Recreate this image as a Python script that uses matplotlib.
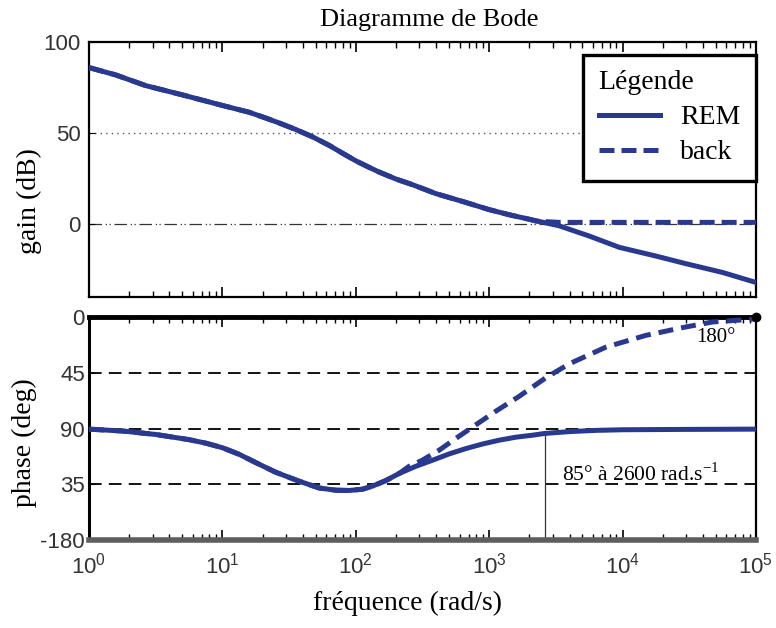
import matplotlib
matplotlib.use("Agg")
import matplotlib.pyplot as plt

# data (w in rad/s)
w_gain_rem = [1, 1.58, 2.66, 5.01, 10, 15.8, 21.1, 26.6, 35.5, 47.3, 63.1,
              79.4, 100, 126, 150, 200, 266, 398, 631, 1000, 1410, 2000,
              3350, 5620, 9440, 17800, 29900, 56200, 100000]
gain_rem = [86, 82, 76.1, 71, 65.2, 61.5, 58.3, 55.6, 52, 48, 43.3,
            39, 34.8, 31.2, 28.6, 24.8, 21.7, 16.8, 12.5, 8, 5.2, 2.7,
            -0.9, -6.5, -12.7, -17.5, -21.7, -26.5, -32]

w_gain_back = [1, 1.58, 2.66, 5.01, 10, 15.8, 21.1, 26.6, 35.5, 47.3, 63.1,
               79.4, 100, 126, 150, 200, 266, 398, 631, 1000, 1410, 2000,
               2240, 3350, 10000, 100000]
gain_back = [86, 82, 76.1, 71, 65.2, 61.5, 58.3, 55.6, 52, 48, 43.3,
             39, 34.8, 31.2, 28.6, 24.8, 21.7, 16.8, 12.5, 8, 5.2, 2.7,
             1.7, 1, 1, 1]

w_phase_rem = [1, 1.778, 3.162, 5.623, 7.499, 10, 13.34, 17.78, 25.12, 37.58,
               53.09, 70.79, 89.13, 112.2, 133.4, 167.9, 211.3, 281.8,
               375.8, 501.2, 668.3, 891.3, 1189, 1585, 2113, 2600, 3981,
               6310, 10000, 31620, 100000]
phase_rem = [-90.5, -92, -94.8, -99, -101.8, -105.5, -110.8, -117.5, -125.3,
             -132.5, -138, -139.8, -140, -139, -136.5, -132, -126.3, -120.5,
             -115.6, -110.5, -106.2, -102.5, -99.4, -97, -95.4, -94,
             -92.5, -91.5, -91, -90.7, -90.5]

w_phase_back = [1, 1.778, 3.162, 5.623, 7.499, 10, 13.34, 17.78, 25.12, 37.58,
                53.09, 70.79, 89.13, 112.2, 133.4, 167.9, 211.3, 251.2,
                316.2, 421.7, 562.3, 794.3, 1122, 1679, 2661, 3981, 7499,
                14960, 29850, 47320, 74990, 100000]
phase_back = [-90.5, -92, -94.8, -99, -101.8, -105.5, -110.8, -117.5, -125.3,
              -132.5, -138, -139.8, -140, -139, -136.5, -132, -126.3, -120.5,
              -115.5, -107.5, -98, -87, -76, -64, -49, -37.8, -24.3,
              -14.8, -8, -4, -2.5, -1.5]

phase_ticks = [0, -45, -90, -135, -180]
phase_labels = ["0", "45", "90", "35", "-180"]
gain_ticks = [0, 50, 100]
x_ticks = [1, 10, 100, 1000, 10000, 100000]
x_labels = [r"$\mathregular{10^{%d}}$" % k for k in range(6)]

blue = "#2a3990"
serif = "Liberation Serif"
sans = "Liberation Sans"

fig = plt.figure(figsize=(7.76, 6.28), dpi=100)
ax1 = fig.add_axes([0.1147, 0.527, 0.8595, 0.406])
ax2 = fig.add_axes([0.1147, 0.1401, 0.8595, 0.3551])

# ---- gain
ax1.set_xscale("log")
ax1.set_xlim(1, 1e5)
ax1.set_ylim(-40, 100)
ax1.axhline(50, color="#555555", lw=1, ls=(0, (1, 3)), zorder=1)
ax1.axhline(0, color="#333333", lw=0.9, ls=(0, (10, 3, 1, 2, 1, 3)), zorder=1)
ax1.plot(w_gain_back, gain_back, color=blue, lw=3.6, dashes=(3, 1.4), label="back", zorder=3)
ax1.plot(w_gain_rem, gain_rem, color=blue, lw=3.6, label="REM", zorder=4)
ax1.set_yticks(gain_ticks)
ax1.set_xticks(x_ticks)
ax1.set_xticklabels([])
ax1.tick_params(axis="x", which="both", direction="in", top=True, bottom=True)
ax1.tick_params(axis="x", which="major", length=7, width=1.2)
ax1.tick_params(axis="x", which="minor", length=4, width=1)
ax1.tick_params(axis="y", direction="in", length=4, pad=6)
for s in ax1.spines.values():
    s.set_linewidth(1.6)
h, l = ax1.get_legend_handles_labels()
leg = ax1.legend(h[::-1], l[::-1], title="Légende", loc="upper right",
                 bbox_to_anchor=(1.0, 0.95), borderaxespad=0, fancybox=False,
                 framealpha=1, edgecolor="black", alignment="left",
                 prop={"family": serif, "size": 20}, handlelength=2.2,
                 handletextpad=0.75, labelspacing=0.35, borderpad=0.55)
leg.get_title().set_fontfamily(serif)
leg.get_title().set_fontsize(20)
leg.get_frame().set_linewidth(2.4)
ax1.set_ylabel("gain (dB)", fontfamily=serif, fontsize=20)
ax1.yaxis.set_label_coords(-0.07, 0.376)

# ---- phase
ax2.set_xscale("log")
ax2.set_xlim(1, 1e5)
ax2.set_ylim(-180, 0)
for p in phase_ticks[1:4]:
    ax2.axhline(p, color="black", lw=1.3, ls=(0, (7, 4)), zorder=1)
ax2.plot(w_phase_back, phase_back, color=blue, lw=3.6, dashes=(3, 1.6), zorder=3)
ax2.plot(w_phase_rem, phase_rem, color=blue, lw=3.6, zorder=4)
ax2.plot([2600, 2600], [-94, -180], color="#333333", lw=0.9, zorder=2)
ax2.plot([1e5], [0], "o", color="black", ms=6, clip_on=False, zorder=6)
ax2.text(3500, -132.5, r"85° à 2600 rad.s$^{\mathregular{-1}}$", fontfamily=serif,
         fontsize=15.5, va="baseline")
ax2.text(35500, -20.5, "180°", fontfamily=serif, fontsize=15, va="baseline")
ax2.set_yticks(phase_ticks)
ax2.set_yticklabels(phase_labels)
ax2.set_xticks(x_ticks)
ax2.set_xticklabels(x_labels)
ax2.tick_params(axis="x", which="both", direction="in", top=True, bottom=True, pad=9)
ax2.tick_params(axis="x", which="major", length=7, width=1.2)
ax2.tick_params(axis="x", which="minor", length=4, width=1)
ax2.tick_params(axis="y", direction="in", length=4, pad=3)
ax2.spines["top"].set_linewidth(3.5)
ax2.spines["bottom"].set_linewidth(4)
ax2.spines["bottom"].set_color("#5e5e5e")
ax2.spines["left"].set_linewidth(2.2)
ax2.spines["right"].set_linewidth(1.6)
ax2.set_ylabel("phase (deg)", fontfamily=serif, fontsize=20)
ax2.yaxis.set_label_coords(-0.078, 0.435)
ax2.set_xlabel("fréquence (rad/s)", fontfamily=serif, fontsize=20)
ax2.xaxis.set_label_coords(0.477, -0.23)

for ax in (ax1, ax2):
    for t in ax.get_xticklabels() + ax.get_yticklabels():
        t.set_fontfamily(sans)
        t.set_fontsize(16)
        t.set_color("#333333")

fig.text(0.553, 0.968, "Diagramme de Bode", fontfamily=serif, fontsize=19,
         ha="center", va="center")

fig.savefig("out.png", dpi=100)
